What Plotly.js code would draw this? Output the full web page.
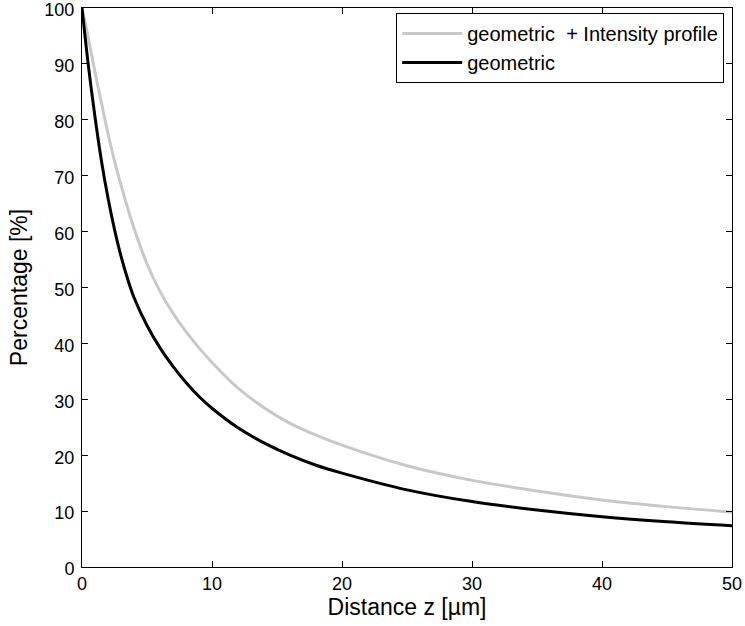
<!DOCTYPE html>
<html>
<head>
<meta charset="utf-8">
<script src="https://cdn.plot.ly/plotly-3.0.1.min.js"></script>
<style>html,body{margin:0;padding:0;background:#fff;}</style>
</head>
<body>
<div id="chart" style="width:745px;height:626px;"></div>
<script>
// Values (smoothed readings)
const geoZ = [0, 0.5, 1, 1.5, 2, 2.5, 3, 3.5, 4, 5, 6, 7, 8, 9, 10, 12, 14, 16, 18, 20, 25, 30, 35, 40, 45, 50];
const geoPct = [100, 89.5, 80.5, 72.6, 66.0, 60.4, 55.6, 51.6, 48.2, 43.2, 39.2, 35.9, 33.0, 30.5, 28.4, 24.9, 22.2, 20.0, 18.2, 16.8, 13.8, 11.7, 10.2, 9.0, 8.1, 7.4];
const intZ = [0, 0.5, 1, 1.5, 2, 2.5, 3, 3.5, 4, 5, 6, 7, 8, 9, 10, 12, 14, 16, 18, 20, 25, 30, 35, 40, 45, 50];
const intPct = [100, 94.5, 88.5, 83, 77.5, 72.6, 68.3, 64.3, 60.6, 54.2, 49.3, 45.4, 42.1, 39.2, 36.6, 32.0, 28.5, 25.7, 23.6, 21.8, 18.1, 15.5, 13.6, 12.0, 10.8, 9.8];
const seriesNames = ['geometric  + Intensity profile', 'geometric'];
const xTicks = [0, 10, 20, 30, 40, 50];
const yTicks = [0, 10, 20, 30, 40, 50, 60, 70, 80, 90, 100];

const FONT = 'Liberation Sans, Arial, sans-serif';

const traces = [
  {x: intZ, y: intPct, name: seriesNames[0], mode: 'lines',
   line: {color: '#c8c8c8', width: 3, shape: 'spline', smoothing: 0.9}},
  {x: geoZ, y: geoPct, name: seriesNames[1], mode: 'lines',
   line: {color: '#000000', width: 3, shape: 'spline', smoothing: 0.9}}
];

const axisCommon = {
  showgrid: false, zeroline: false, showline: true, linecolor: '#000', linewidth: 1,
  mirror: 'ticks', ticks: 'inside', ticklen: 6, tickcolor: '#000',
  ticklabeloverflow: 'allow',
  tickfont: {family: FONT, size: 18, color: '#000'}
};

const layout = {
  width: 745, height: 626,
  margin: {l: 82, r: 13, t: 8, b: 59},
  paper_bgcolor: '#fff', plot_bgcolor: '#fff',
  showlegend: true,
  legend: {x: 0.988, xanchor: 'right', y: 0.991, yanchor: 'top',
    bordercolor: '#000', borderwidth: 1, bgcolor: '#fff',
    font: {family: FONT, size: 20, color: '#000'},
    itemwidth: 60, tracegroupgap: 0},
  xaxis: Object.assign({}, axisCommon, {range: [0, 50], tickvals: xTicks,
    title: {text: 'Distance z [µm]', font: {family: FONT, size: 23, color: '#000'}, standoff: 2}}),
  yaxis: Object.assign({}, axisCommon, {range: [0, 100], tickvals: yTicks,
    ticklabelshift: 2, ticklabelstandoff: 3,
    title: {text: 'Percentage [%]', font: {family: FONT, size: 23, color: '#000'}, standoff: 10}})
};

Plotly.newPlot('chart', traces, layout, {displayModeBar: false, staticPlot: true});
</script>
</body>
</html>
